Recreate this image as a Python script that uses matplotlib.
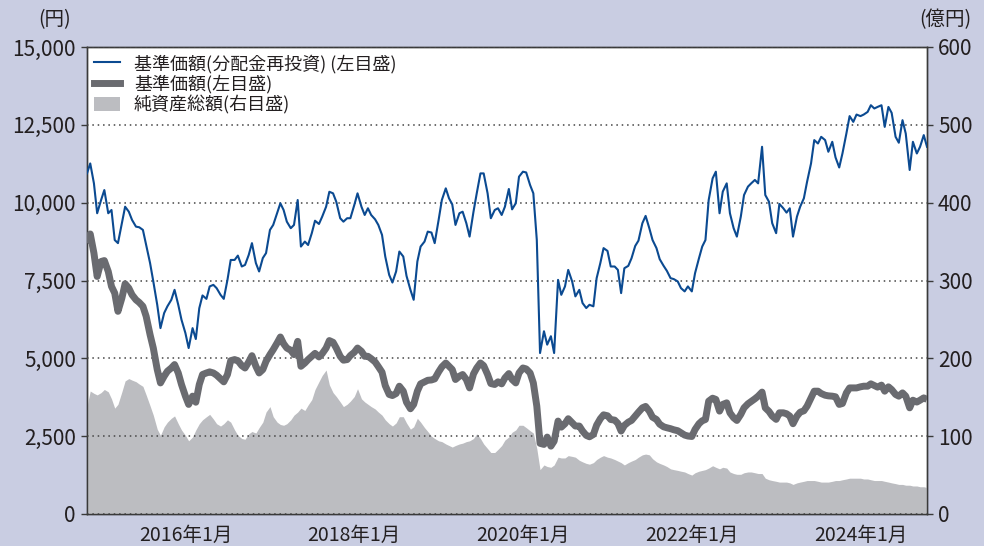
import numpy as np
import pandas as pd
import matplotlib
matplotlib.use("Agg")
import matplotlib.pyplot as plt
import matplotlib.dates as mdates
from matplotlib.lines import Line2D
from matplotlib.patches import Patch
from matplotlib.ticker import FuncFormatter, MultipleLocator

plt.rcParams['font.family'] = ['Noto Sans CJK JP', 'DejaVu Sans']

# semi-monthly observations, 2014-11 .. 2024-10
dates = pd.date_range('2014-11-01', periods=240, freq='SMS')

# 基準価額(分配金再投資) 円
nav_reinvest = [
    10940, 11260, 10620, 9660, 10085, 10405, 9660, 9765, 8800, 8700,
    9340, 9870, 9710, 9445, 9230, 9210, 9125, 8640, 8060, 7470,
    6720, 5970, 6455, 6670, 6880, 7200, 6720, 6240, 5810, 5330,
    5970, 5620, 6610, 7020, 6910, 7310, 7360, 7255, 7040, 6910,
    7520, 8160, 8160, 8300, 7950, 8000, 8320, 8700, 8060, 7790,
    8220, 8380, 9125, 9285, 9660, 9980, 9765, 9390, 9180, 9285,
    10085, 8590, 8750, 8640, 9020, 9420, 9315, 9550, 9870, 10350,
    10300, 10030, 9500, 9390, 9500, 9500, 9925, 10300, 9870, 9605,
    9820, 9605, 9465, 9285, 8965, 8270, 7680, 7435, 7790, 8430,
    8270, 7650, 7200, 6880, 8110, 8590, 8750, 9070, 9040, 8700,
    9445, 10085, 10460, 10140, 9945, 9285, 9660, 9710, 9340, 8910,
    9710, 10300, 10940, 10940, 10300, 9500, 9765, 9820, 9605, 9870,
    10440, 9785, 9980, 10835, 10995, 10970, 10565, 10300, 8800, 5170,
    5870, 5440, 5710, 5170, 7520, 7040, 7310, 7840, 7470, 6990,
    7200, 6775, 6615, 6720, 6670, 7575, 8060, 8540, 8450, 7950,
    7950, 7840, 7095, 7895, 7970, 8215, 8610, 8780, 9340, 9575,
    9180, 8800, 8540, 8185, 7970, 7810, 7575, 7545, 7470, 7255,
    7150, 7310, 7150, 7735, 8215, 8590, 8800, 10085, 10780, 10995,
    9660, 10355, 10620, 9660, 9180, 8910, 9550, 10245, 10515, 10620,
    10730, 10620, 11795, 10245, 10030, 9340, 9020, 9960, 9820, 9680,
    9820, 8910, 9550, 9870, 10140, 10675, 11260, 12010, 11900, 12115,
    12010, 11635, 11955, 11455, 11130, 11580, 12220, 12780, 12595, 12830,
    12780, 12830, 12915, 13130, 13025, 13075, 13130, 12435, 13075, 12885,
    12115, 11925, 12650, 12220, 11050, 11955, 11580, 11795, 12170, 11795,
]

# 基準価額 円
nav = [
    8700, 8995, 8380, 7630, 8110, 8140, 7790, 7310, 7095, 6510,
    6935, 7395, 7255, 7040, 6880, 6795, 6670, 6350, 5760, 5330,
    4640, 4210, 4425, 4585, 4690, 4800, 4530, 4160, 3785, 3520,
    3785, 3590, 4160, 4480, 4530, 4565, 4530, 4460, 4340, 4245,
    4480, 4925, 4960, 4925, 4765, 4690, 4885, 5085, 4745, 4530,
    4640, 4905, 5120, 5280, 5495, 5685, 5470, 5330, 5260, 5120,
    5545, 4745, 4850, 4960, 5065, 5160, 5045, 5150, 5330, 5570,
    5515, 5330, 5065, 4940, 4960, 5090, 5195, 5330, 5225, 5065,
    5065, 4990, 4885, 4735, 4555, 4125, 3840, 3805, 3870, 4105,
    3945, 3590, 3380, 3520, 3945, 4180, 4245, 4295, 4305, 4340,
    4565, 4725, 4850, 4745, 4640, 4320, 4425, 4480, 4320, 4050,
    4500, 4690, 4850, 4765, 4480, 4190, 4160, 4245, 4180, 4370,
    4510, 4320, 4210, 4530, 4690, 4660, 4530, 4210, 3465, 2270,
    2235, 2470, 2180, 2340, 2985, 2790, 2900, 3060, 2930, 2825,
    2825, 2665, 2525, 2480, 2555, 2855, 3060, 3185, 3155, 3035,
    3015, 2910, 2665, 2845, 2950, 3005, 3145, 3270, 3410, 3455,
    3305, 3110, 3035, 2885, 2800, 2770, 2740, 2705, 2675, 2610,
    2535, 2505, 2490, 2715, 2900, 2995, 3035, 3625, 3720, 3680,
    3305, 3520, 3570, 3250, 3090, 3005, 3200, 3410, 3540, 3615,
    3700, 3785, 3915, 3410, 3295, 3145, 3040, 3250, 3250, 3220,
    3145, 2900, 3145, 3270, 3315, 3465, 3730, 3945, 3945, 3870,
    3815, 3795, 3785, 3765, 3520, 3550, 3890, 4050, 4050, 4050,
    4085, 4105, 4105, 4180, 4125, 4075, 4140, 3945, 4085, 3995,
    3840, 3785, 3890, 3785, 3410, 3655, 3595, 3655, 3730, 3680,
]

# 純資産総額 億円
net_assets = [
    138, 158, 155, 153, 156, 160, 157, 148, 136, 141,
    157, 171, 174, 172, 170, 167, 164, 153, 139, 127,
    109, 101, 112, 118, 123, 126, 116, 108, 101, 94,
    99, 108, 116, 121, 125, 128, 122, 116, 113, 116,
    121, 118, 108, 101, 97, 96, 103, 106, 104, 111,
    118, 131, 138, 125, 118, 115, 114, 116, 121, 127,
    131, 136, 133, 140, 147, 160, 170, 178, 185, 166,
    156, 151, 144, 138, 141, 145, 151, 161, 148, 144,
    141, 138, 135, 131, 127, 121, 116, 113, 117, 125,
    125, 117, 109, 112, 123, 118, 111, 106, 100, 97,
    94, 93, 90, 88, 86, 88, 90, 91, 93, 94,
    97, 103, 97, 90, 84, 79, 79, 83, 88, 95,
    99, 105, 108, 114, 114, 111, 107, 104, 84, 57,
    63, 61, 60, 63, 73, 72, 72, 75, 74, 73,
    69, 67, 65, 64, 66, 70, 73, 75, 73, 72,
    70, 68, 66, 63, 66, 68, 70, 73, 76, 77,
    76, 71, 67, 65, 63, 61, 58, 57, 56, 55,
    54, 52, 50, 53, 55, 56, 57, 59, 62, 60,
    58, 60, 59, 54, 52, 51, 51, 53, 54, 54,
    53, 52, 52, 46, 44, 43, 42, 41, 41, 41,
    40, 38, 40, 41, 42, 43, 43, 43, 42, 41,
    41, 41, 42, 43, 43, 44, 45, 46, 46, 46,
    46, 45, 45, 44, 43, 43, 43, 42, 41, 40,
    39, 38, 38, 37, 37, 36, 36, 35, 35, 34,
]

legend_labels = ['基準価額(分配金再投資) (左目盛)', '基準価額(左目盛)', '純資産総額(右目盛)']

bg = '#c9cde2'
plot_bg = '#ffffff'
blue = '#0b4a91'
dark_grey = '#6a6b70'
light_grey = '#bcbdc1'
txt = '#231f20'

fig = plt.figure(figsize=(9.84, 5.46), dpi=100)
fig.patch.set_facecolor(bg)
ax = fig.add_axes([87 / 984, 32 / 546, 840 / 984, 467 / 546])
ax.set_facecolor(plot_bg)
ax2 = ax.twinx()

# area on the right scale
ax2.fill_between(dates, net_assets, 0, color=light_grey, lw=0, zorder=1)
ax2.set_ylim(0, 600)
ax2.yaxis.set_major_locator(MultipleLocator(100))

# lines live on a third axes above the area, sharing the left scale
ax3 = fig.add_axes(ax.get_position(), sharex=ax, sharey=ax)
ax3.patch.set_visible(False)
ax3.axis('off')
ax3.plot(dates, nav, color=dark_grey, lw=5, solid_capstyle='butt')
ax3.plot(dates, nav_reinvest, color=blue, lw=1.5)

ax.set_ylim(0, 15000)
ax.set_xlim(dates[0], dates[-1])
ax.yaxis.set_major_locator(MultipleLocator(2500))
ax.yaxis.set_major_formatter(FuncFormatter(lambda v, p: f'{v:,.0f}'))
ax2.grid(False)
ax2.yaxis.grid(True, color='#444444', lw=1.1, linestyle=(0, (1, 2.5)), zorder=2)
ax2.set_axisbelow(False)

ax.xaxis.set_major_locator(mdates.YearLocator(base=2, month=1, day=1))
ax.xaxis.set_major_formatter(FuncFormatter(
    lambda v, p: f'{mdates.num2date(v).year}年{mdates.num2date(v).month}月'))

for a in (ax, ax2):
    for s in a.spines.values():
        s.set_color('#3a3a3a')
        s.set_linewidth(1.0)
ax.tick_params(axis='x', direction='in', length=7, width=1, color='#3a3a3a',
               labelsize=14, labelcolor=txt, pad=8)
ax.tick_params(axis='y', direction='out', length=4, width=1, color='#3a3a3a',
               labelsize=15, labelcolor=txt, pad=4)
ax2.tick_params(axis='y', direction='out', length=4, width=1, color='#3a3a3a',
                labelsize=15, labelcolor=txt, pad=4)

fig.text(55 / 984, 1 - 20 / 546, '(円)', ha='center', va='center', fontsize=14, color=txt)
fig.text(945 / 984, 1 - 20 / 546, '(億円)', ha='center', va='center', fontsize=14, color=txt)

handles = [
    Line2D([], [], color=blue, lw=1.5),
    Line2D([], [], color=dark_grey, lw=5),
    Patch(facecolor=light_grey, edgecolor='none'),
]
ax3.legend(handles, legend_labels, loc='upper left', bbox_to_anchor=(0.0, 1.0),
           frameon=False, fontsize=13, handlelength=1.4, handleheight=0.8,
           handletextpad=0.8, labelspacing=0.1, borderaxespad=0.0,
           labelcolor=txt)

fig.savefig('out.png', dpi=100, facecolor=fig.get_facecolor())
